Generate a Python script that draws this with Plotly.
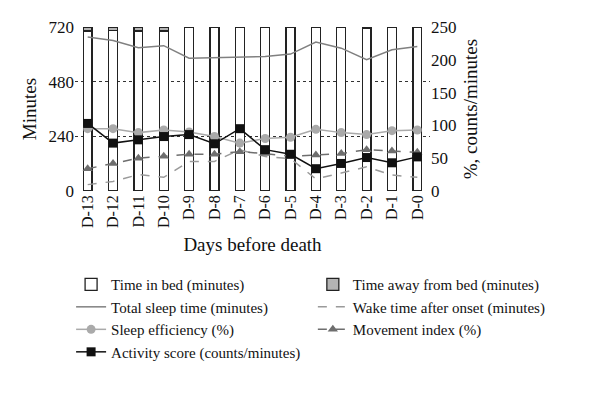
import plotly.graph_objects as go

days = ["D-13", "D-12", "D-11", "D-10", "D-9", "D-8", "D-7", "D-6", "D-5", "D-4", "D-3", "D-2", "D-1", "D-0"]
time_away = [18, 16, 17, 17, 0, 0, 3, 0, 0, 3, 0, 8, 0, 0]
time_in_bed = [720 - a for a in time_away]
total_sleep = [676, 661, 629, 638, 583, 586, 586, 590, 601, 654, 627, 576, 620, 634]
wake_after_onset = [28, 42, 72, 60, 130, 130, 181, 151, 142, 53, 79, 106, 70, 60]
sleep_eff = [95, 95, 89, 93, 90, 83, 73, 80, 82, 94, 89, 86, 92, 93]
movement = [34, 42, 50, 53, 56, 56, 60, 57, 53, 55, 57, 63, 61, 59]
activity = [103, 73, 78, 83, 86, 72, 95, 63, 56, 34, 42, 51, 43, 52]

FONT = "Liberation Serif"

fig = go.Figure()
fig.add_bar(x=days, y=time_in_bed, name="Time in bed (minutes)", legend="legend",
            marker=dict(color="white", line=dict(color="#222", width=1.3)), width=0.35)
fig.add_bar(x=days, y=time_away, name="Time away from bed (minutes)", legend="legend2",
            marker=dict(color="#b3b3b3", line=dict(color="#222", width=1.3)), width=0.35)
fig.add_scatter(x=days, y=total_sleep, name="Total sleep time (minutes)", mode="lines", legend="legend",
                line=dict(color="#808080", width=1.5))
fig.add_scatter(x=days, y=wake_after_onset, name="Wake time after onset (minutes)", mode="lines",
                legend="legend2", line=dict(color="#9a9a9a", width=1.5, dash="dash"))
fig.add_scatter(x=days, y=sleep_eff, name="Sleep efficiency (%)", mode="lines+markers", yaxis="y2",
                legend="legend", line=dict(color="#aaaaaa", width=1.5),
                marker=dict(symbol="circle", size=9, color="#aaaaaa"))
fig.add_scatter(x=days, y=movement, name="Movement index (%)", mode="lines+markers", yaxis="y2",
                legend="legend2", line=dict(color="#6e6e6e", width=1.5, dash="dash"),
                marker=dict(symbol="triangle-up", size=9, color="#6e6e6e"))
fig.add_scatter(x=days, y=activity, name="Activity score (counts/minutes)", mode="lines+markers", yaxis="y2",
                legend="legend", line=dict(color="#111", width=1.5),
                marker=dict(symbol="square", size=9, color="#111"))

leg_common = dict(orientation="v", yanchor="top", xanchor="left", traceorder="normal",
                  font=dict(size=15), tracegroupgap=0, itemwidth=30, bgcolor="rgba(0,0,0,0)")

fig.update_layout(
    width=600, height=394,
    margin=dict(l=75, r=170, t=27, b=203),
    paper_bgcolor="white", plot_bgcolor="white",
    font=dict(family=FONT, size=16, color="#111"),
    barmode="stack",
    showlegend=True,
    legend=dict(x=-0.011, y=-0.47, **leg_common),
    legend2=dict(x=0.67, y=-0.47, **leg_common),
    xaxis=dict(tickangle=-90, showgrid=False, showline=False, ticks="", automargin=False,
               range=[-0.5, 13.5], tickfont=dict(size=16),
               title=dict(text="Days before death", standoff=10)),
    yaxis=dict(range=[0, 720], tickvals=[0, 240, 480, 720], showgrid=True, automargin=False,
               gridcolor="#333", griddash="dot", gridwidth=1, zeroline=False, showline=False,
               tickfont=dict(size=17),
               title=dict(text="Minutes", standoff=6), ticks=""),
    yaxis2=dict(range=[0, 250], dtick=50, overlaying="y", side="right", showgrid=False,
                automargin=False,
                zeroline=False, showline=False, ticks="", tickfont=dict(size=17),
                title=dict(text="%, counts/minutes", standoff=8)),
)

fig.write_html("out.html", config={"displayModeBar": False},
               post_script="document.body.style.margin='0';")
